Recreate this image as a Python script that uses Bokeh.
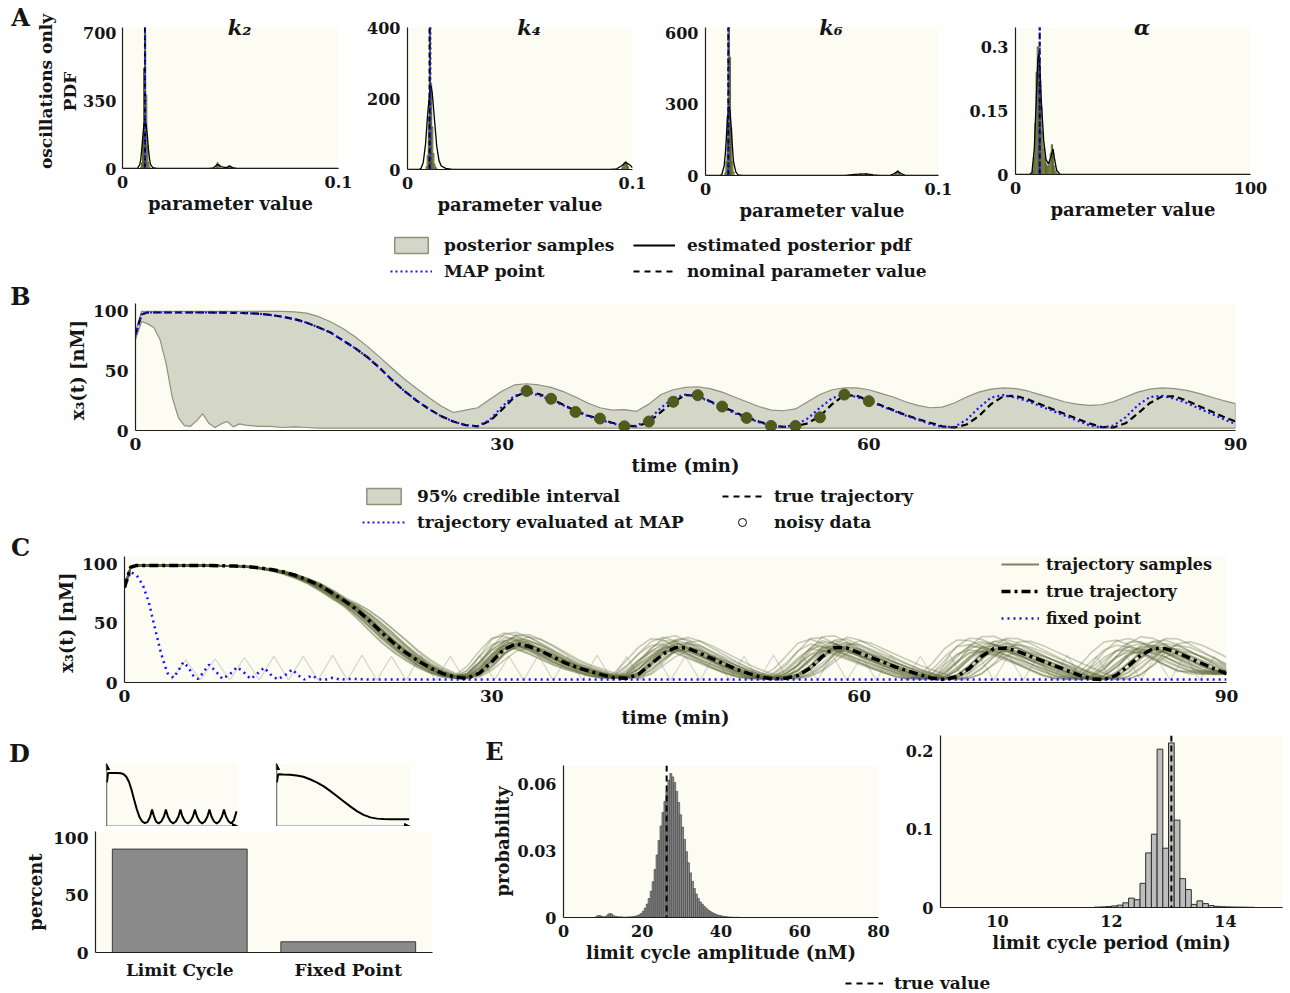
import numpy as np
from bokeh.plotting import figure
from bokeh.layouts import column, row
from bokeh.models import (Range1d, FactorRange, FixedTicker, CustomJSTickFormatter,
                          Label, Legend, LegendItem, Arrow, NormalHead, BoxAnnotation,
                          Span)
from bokeh.embed import file_html
from bokeh.resources import INLINE

# ---------------- data ----------------
# Panel A: posterior histograms (bin centres / heights) and estimated pdfs
k2_bin = 0.0005
k2_hist_x = [0.0085, 0.009, 0.0095, 0.010, 0.0105, 0.011, 0.0115, 0.012, 0.0125,
             0.0435, 0.044, 0.0445, 0.045, 0.049, 0.0495, 0.05, 0.0505]
k2_hist_y = [5, 30, 160, 520, 700, 380, 120, 30, 8, 10, 30, 22, 10, 8, 15, 12, 5]
k2_pdf_x = [0, 0.006, 0.007, 0.008, 0.0085, 0.009, 0.0095, 0.010, 0.0105, 0.011, 0.0115,
            0.012, 0.0125, 0.013, 0.014, 0.016, 0.040, 0.042, 0.044, 0.046, 0.048, 0.0495,
            0.051, 0.053, 0.1]
k2_pdf_y = [0, 0, 2, 20, 50, 110, 180, 235, 245, 225, 170, 100, 50, 20, 4, 0, 0, 3, 22, 8,
            5, 12, 5, 0, 0]
k2_map, k2_nominal = 0.0104, 0.0104

k4_bin = 0.0005
k4_hist_x = [0.0085, 0.009, 0.0095, 0.010, 0.0105, 0.011, 0.0115, 0.012, 0.0125, 0.013,
             0.0955, 0.096, 0.0965, 0.097, 0.0975, 0.098]
k4_hist_y = [8, 40, 150, 400, 240, 120, 45, 15, 6, 2, 5, 12, 20, 22, 15, 8]
k4_pdf_x = [0, 0.005, 0.006, 0.007, 0.008, 0.009, 0.010, 0.0105, 0.011, 0.012, 0.013, 0.014,
            0.015, 0.017, 0.020, 0.090, 0.093, 0.095, 0.097, 0.099, 0.1]
k4_pdf_y = [0, 0, 3, 20, 70, 160, 225, 235, 215, 140, 65, 25, 10, 3, 0, 0, 2, 10, 20, 12, 5]
k4_map, k4_nominal = 0.0102, 0.0098

k6_bin = 0.0005
k6_hist_x = [0.0085, 0.009, 0.0095, 0.010, 0.0105, 0.011, 0.0115, 0.012,
             0.064, 0.0665, 0.069, 0.0715, 0.0815, 0.082, 0.0825, 0.083, 0.0835]
k6_hist_y = [10, 60, 250, 625, 500, 200, 60, 15, 5, 7, 8, 5, 6, 12, 20, 14, 6]
k6_pdf_x = [0, 0.006, 0.007, 0.008, 0.0085, 0.009, 0.0095, 0.010, 0.0105, 0.011, 0.0115,
            0.012, 0.013, 0.014, 0.016, 0.060, 0.063, 0.066, 0.069, 0.072, 0.075, 0.079,
            0.081, 0.0825, 0.084, 0.086, 0.1]
k6_pdf_y = [0, 0, 4, 40, 90, 170, 250, 290, 275, 210, 130, 60, 15, 3, 0, 0, 4, 6, 7, 3, 0,
            0, 8, 18, 8, 0, 0]
k6_map, k6_nominal = 0.0098, 0.0098

alpha_bin = 0.5
alpha_hist_x = [7, 7.5, 8, 8.5, 9, 9.5, 10, 10.5, 11, 11.5, 12, 12.5, 13, 13.5, 14, 14.5,
                15, 15.5, 16, 16.5, 17, 17.5]
alpha_hist_y = [0.002, 0.01, 0.04, 0.12, 0.24, 0.30, 0.28, 0.22, 0.16, 0.10, 0.06, 0.04,
                0.025, 0.02, 0.02, 0.03, 0.05, 0.07, 0.05, 0.02, 0.008, 0.003]
alpha_pdf_x = [0, 6, 7, 8, 9, 9.5, 10, 10.5, 11, 12, 13, 14, 15, 16, 16.5, 17.5, 19, 100]
alpha_pdf_y = [0, 0, 0.005, 0.06, 0.2, 0.27, 0.285, 0.24, 0.17, 0.08, 0.035, 0.025, 0.04,
               0.06, 0.04, 0.01, 0, 0]
alpha_map, alpha_nominal = 10.3, 10.3

# Panels B/C: trajectories x3(t)
t_grid = [0, 0.5] + list(range(1, 91))
true_x3 = [80, 97, 98.5, 98.5, 98.5, 98.5, 98.5, 98.5, 98.4, 98.2, 98, 97.5, 96.5, 95, 93,
           90, 86, 81.5, 75, 68.5, 61, 52, 42, 33, 25, 18, 12, 7.5, 4.5, 3.5, 8, 17.5, 28,
           32.5, 30.5, 26.5, 21.5, 16.5, 12.5, 9.5, 6.5, 4, 3.5, 7, 15.5, 24, 29.5, 29,
           24.5, 20, 15.5, 11, 7.5, 4.5, 3, 3.5, 6, 12, 22, 29.5, 29, 25, 21, 17, 13, 9.5,
           6.5, 3.5, 2.5, 5, 12, 22, 28.5, 29, 26, 22, 18, 14, 10, 6, 3, 2.5, 6, 14, 23,
           28.5, 28.5, 25, 20.5, 16, 11.5, 7.5]
map_x3 = [80, 97, 98.5, 98.5, 98.5, 98.5, 98.5, 98.5, 98.4, 98.2, 98, 97.5, 96.5, 95, 93,
          90, 86, 81.5, 75, 68.5, 61, 52, 42, 33, 25, 18, 12, 7.5, 4.5, 3.5, 9, 20, 29,
          31.5, 29.5, 25.5, 21, 16, 12, 9, 6, 3.5, 4, 9, 19, 27, 30, 28.5, 24, 19.5, 14.5,
          10.5, 7, 4, 3, 4.5, 10, 19, 27, 30, 28, 24.5, 20.5, 16.5, 12.5, 9, 5.5, 3, 3, 9,
          19, 27.5, 29.5, 27.5, 24.5, 20.5, 16.5, 12.5, 8.5, 4.5, 2.5, 4, 11, 21, 28, 29,
          26.5, 23, 18.5, 14, 9.5, 5.5]
ci_upper = [82, 99.5, 99.5, 99.5, 99.5, 99.5, 99.5, 99.5, 99.5, 99.5, 99.5, 99.5, 99.5,
            99.5, 99, 98, 95, 90.5, 85, 78, 70, 61, 52, 43, 35, 27.5, 20.5, 15, 17, 19, 26,
            33, 38, 39, 38, 36, 32.5, 28, 23, 19, 17, 17.5, 16, 22, 30, 34, 36, 36.5, 35,
            32, 28, 24, 20, 17, 16.5, 18, 24, 30, 34, 35.5, 35.5, 34, 31, 28, 24, 21, 19,
            19.5, 23, 28, 32, 34.5, 35.5, 35, 33, 30, 27, 24, 22, 21, 21.5, 24, 28, 32,
            34.5, 35.5, 35, 33.5, 31, 28, 25, 22.5]
ci_lower_t = [0, 0.5, 1, 1.5, 2, 2.5, 3, 3.5, 4, 4.5, 5, 5.5, 6, 6.5, 7, 7.5, 8, 8.5, 9,
              10, 11, 12, 13, 14, 15, 20, 30, 40, 50, 60, 70, 80, 90]
ci_lower = [76, 91, 89, 86, 76, 56, 28, 11, 4, 3.5, 8, 14, 6, 2.5, 5.5, 7.5, 3, 5.5, 4.5,
            3.5, 3.5, 2.5, 3, 2.5, 2, 2, 2, 2, 2, 2, 2, 2, 2]
obs_t = [32, 34, 36, 38, 40, 42, 44, 46, 48, 50, 52, 54, 56, 58, 60]
obs_x3 = [33, 26.5, 15.5, 10, 3.5, 7.5, 24, 29.5, 20, 10.5, 3.8, 3.8, 11, 30, 24.5]

fixed_t = [0, 0.5, 1, 1.5, 2, 2.5, 3, 3.5, 4, 4.4, 4.8, 5.2, 5.6, 6.0, 6.4, 6.9, 7.4, 8.0,
           8.6, 9.2, 9.8, 10.3, 10.8, 11.4, 11.9, 12.5, 13.1, 13.7, 14.2, 14.7, 15.3, 15.8,
           16.3, 17.0, 17.6, 18.5, 20, 90]
fixed_x3 = [80, 93, 90, 82, 67, 45, 24, 8, 4, 10, 17, 13, 6, 3, 8, 15, 10, 3, 7, 13, 8, 3,
            7, 12.5, 7, 2.5, 6, 11, 6, 2.5, 6, 3, 2, 4, 2.5, 3, 2.5, 2.5]
zigzag_t = [3.8, 5.0, 6.2, 7.4, 8.6, 9.8, 11.0, 12.2, 13.4, 14.6, 15.8, 17.0, 18.2, 19.4,
            20.6, 21.8, 23.0, 24.2, 25.4, 26.6, 27.8, 29.0, 30.2, 31.4, 32.6, 33.8, 35.0,
            36.2, 37.4, 38.6, 39.8, 41.0, 42.2, 43.4, 44.6, 45.8, 47.0, 48.2, 49.4, 50.6,
            51.8, 53.0, 54.2, 55.4, 56.6, 57.8, 59.0, 60.2, 61.4, 62.6, 63.8, 65.0, 66.2,
            67.4, 68.6, 69.8, 71.0, 72.2, 73.4, 74.6, 75.8, 77.0, 78.2, 79.4, 80.6, 81.8,
            83.0, 84.2, 85.4, 86.6, 87.8, 89.0, 90.0]
zigzag_x3 = [2, 19, 2, 20, 2, 21, 2, 22, 2, 22, 2, 23, 2, 23, 2, 22, 2, 23, 2, 22, 2, 23, 2,
             22, 2, 23, 2, 22, 2, 23, 2, 22, 2, 23, 2, 22, 2, 23, 2, 22, 2, 23, 2, 22, 2, 23,
             2, 22, 2, 23, 2, 22, 2, 23, 2, 22, 2, 23, 2, 22, 2, 23, 2, 22, 2, 23, 2, 22, 2,
             23, 2, 22, 12]
sample_period_ratio = [0.955, 0.96, 0.965, 0.968, 0.971, 0.974, 0.977, 0.979, 0.981, 0.983,
                       0.985, 0.987, 0.989, 0.991, 0.993, 0.995, 0.997, 0.999, 1.0, 1.002,
                       1.004, 1.006, 1.008, 1.011, 1.014, 1.018, 1.022, 1.027]
sample_amp_ratio = [1.25, 1.1, 0.95, 1.3, 1.05, 0.9, 1.2, 1.0, 1.15, 0.92, 1.35, 1.05,
                    0.98, 1.1, 1.2, 0.95, 1.0, 1.1, 0.9, 1.25, 1.05, 1.15, 0.95, 1.3, 1.0,
                    1.1, 0.9, 1.2]

# Panel D
regimes = ["Limit Cycle", "Fixed Point"]
regime_percent = [90.6, 9.4]
lc_sketch_t = [0.3, 1.2, 4, 8, 11, 13, 15, 17, 19, 21, 23, 25, 27, 29, 31, 33, 34.5, 36,
               37.5, 39.5, 41.5, 43.5, 45, 46.5, 48.5, 50.5, 52.5, 54.5, 56, 57.5, 59.5,
               61.5, 63.5, 65.5, 67, 68.5, 70.5, 72.5, 74.5, 76.5, 78, 79.5, 81.5, 83.5,
               85.5, 87.5, 89, 90.5, 92.5, 94.5, 96.5, 98.5]
lc_sketch_v = [70, 85, 85, 85, 84.5, 83, 79, 71, 58, 42, 27, 15, 8, 5.5, 7, 15, 27, 16, 8,
               5, 8, 16, 27, 16, 8, 5, 8, 16, 27, 16, 8, 5, 8, 16, 27, 16, 8, 5, 8, 16, 27,
               16, 8, 5, 8, 16, 27, 16, 8, 5, 10, 24]
fp_sketch_t = [0.3, 1.2, 5, 10, 15, 20, 25, 30, 35, 40, 45, 50, 55, 60, 65, 70, 75, 80, 85,
               90, 95, 99]
fp_sketch_v = [70, 83, 82.5, 82, 81, 79, 75, 70, 64, 56.5, 48.5, 40, 32, 24.5, 18.5, 14.5,
               12.5, 11.8, 11.5, 11.5, 11.5, 11.5]

# Panel E
amp_start, amp_bin = 8.0, 0.5
amp_prob = [0.0003, 0.0008, 0.0009, 0.0005, 0.0003, 0.0005, 0.0012, 0.0018, 0.0016, 0.0008,
            0.0005, 0.0004, 0.0003, 0.0003, 0.0002, 0.0002, 0.0002, 0.0003, 0.0003, 0.0004,
            0.0006, 0.0008, 0.0012, 0.0018, 0.0028, 0.0042, 0.006, 0.0085, 0.0118, 0.016,
            0.0215, 0.028, 0.0345, 0.041, 0.047, 0.052, 0.0565, 0.0615, 0.0645, 0.063,
            0.0605, 0.0565, 0.0515, 0.046, 0.0405, 0.035, 0.0295, 0.0245, 0.02, 0.0162,
            0.013, 0.0105, 0.0085, 0.007, 0.006, 0.005, 0.0042, 0.0034, 0.0028, 0.0022,
            0.0018, 0.0014, 0.0011, 0.0009, 0.0007, 0.0005, 0.0004, 0.0003, 0.0002, 0.0002,
            0.0001, 0.0001, 0.0001, 0.0001]
amp_true = 26.2
per_start, per_bin = 11.7, 0.1
per_prob = [0.0005, 0.0008, 0.0012, 0.002, 0.003, 0.006, 0.012, 0.010, 0.031, 0.070, 0.094,
            0.203, 0.076, 0.211, 0.112, 0.037, 0.023, 0.004, 0.0085, 0.005, 0.0025, 0.0015,
            0.001, 0.0008, 0.0006, 0.0005, 0.0004, 0.0003]
per_true = 13.05

# ---------------- style helpers ----------------
FONT = "DejaVu Serif"
CREAM = "#fcfcf3"
BAND_FILL = "#d4d7c7"
BAND_LINE = "#8f917c"
OLIVE = "#4f5b1d"
SAMPLE = "#5f6638"
BLUE = "#1515ff"
TXT = "#151515"

num_fmt = CustomJSTickFormatter(code="return tick.toString();")


def mkfig(w, h, l, r, t, b, xr, yr, xaxis=True, yaxis=True, tick_size="16px"):
    p = figure(width=w, height=h, x_range=xr, y_range=yr, output_backend="svg",
               toolbar_location=None, min_border_left=l, min_border_right=r,
               min_border_top=t, min_border_bottom=b,
               x_axis_location="below" if xaxis else None,
               y_axis_location="left" if yaxis else None)
    p.background_fill_color = CREAM
    p.border_fill_color = "white"
    p.outline_line_color = None
    p.grid.visible = False
    for ax in p.axis:
        ax.major_tick_line_color = None
        ax.minor_tick_line_color = None
        ax.major_tick_in = 0
        ax.major_tick_out = 0
        ax.minor_tick_in = 0
        ax.minor_tick_out = 0
        ax.axis_line_color = "#1e1e1e"
        ax.axis_line_width = 1.2
        ax.major_label_text_font = FONT
        ax.major_label_text_font_style = "bold"
        ax.major_label_text_font_size = tick_size
        ax.major_label_text_color = TXT
        ax.major_label_standoff = 7
        ax.axis_label_text_font = FONT
        ax.axis_label_text_font_style = "bold"
        ax.axis_label_text_font_size = "18px"
        ax.axis_label_text_color = TXT
        ax.axis_label_standoff = 2
    return p


def solo(p):
    return column(p)


def set_ticks(p, xt=None, yt=None):
    if xt is not None:
        p.xaxis.ticker = FixedTicker(ticks=xt)
        p.xaxis.formatter = num_fmt
    if yt is not None:
        p.yaxis.ticker = FixedTicker(ticks=yt)
        p.yaxis.formatter = num_fmt


def blank_fig(w, h):
    # a plain canvas whose frame is the whole figure (x: px from left, y: px from top)
    p = figure(width=w, height=h, x_range=Range1d(0, w), y_range=Range1d(h, 0),
               output_backend="svg", toolbar_location=None, min_border=0,
               x_axis_location=None, y_axis_location=None)
    p.outline_line_color = None
    p.background_fill_color = "white"
    p.border_fill_color = "white"
    p.grid.visible = False
    return p


def letter_fig(text, w, h, cx, cy):
    p = blank_fig(w, h)
    p.add_layout(Label(x=cx, y=cy, text=text, text_font=FONT, text_font_style="bold",
                       text_font_size="24px", text_align="center", text_baseline="middle",
                       text_color=TXT))
    return p


def mk_legend(items, loc, glyph_w=42, standoff=12, spacing=6, size="17px"):
    return Legend(items=items, location=loc, orientation="vertical",
                  label_text_font=FONT, label_text_font_style="bold",
                  label_text_font_size=size, label_text_color=TXT,
                  glyph_width=glyph_w, glyph_height=20, label_height=20,
                  label_standoff=standoff, spacing=spacing, padding=0, margin=0,
                  border_line_color=None, background_fill_alpha=0)


# off-canvas coordinates for legend-only renderers
OFF = [-50, -40]

# ---------------- Panel A ----------------
A_TOP = 14   # frame top (leaves room for the titles that straddle the axes top)


def param_panel(w, h, l, r, fr_top, fr_bot, xmax, ytop, xt, yt, hx, hy, hbin, px, py,
                vmap, vnom, title):
    yfull = ytop * (fr_bot - A_TOP) / (fr_bot - fr_top)
    p = mkfig(w, h, l, r, A_TOP, h - fr_bot, Range1d(0, xmax), Range1d(0, yfull))
    p.background_fill_color = "white"
    p.add_layout(BoxAnnotation(bottom=0, top=ytop, fill_color=CREAM, fill_alpha=1,
                               line_color=None, level="underlay"))
    set_ticks(p, xt, yt)
    p.yaxis.bounds = (0, ytop)
    p.xaxis.axis_label = "parameter value"
    p.vbar(x=hx, width=hbin, top=hy, bottom=0, fill_color=BAND_FILL, line_color=OLIVE,
           line_width=0.9)
    p.line(px, py, line_color="black", line_width=1.3)
    p.segment(x0=[vnom], y0=[0], x1=[vnom], y1=[ytop], line_color="black",
              line_dash="5 3", line_width=2)
    p.segment(x0=[vmap], y0=[0], x1=[vmap], y1=[ytop], line_color=BLUE,
              line_dash="2 3", line_width=2)
    p.add_layout(Label(x=xmax / 2, y=ytop, x_offset=9, text=title, text_font=FONT,
                       text_font_style="bold italic", text_font_size="21px",
                       text_align="center", text_baseline="middle", text_color=TXT))
    return p


letA = letter_fig("A", 33, 225, 20, 17)
pk2 = param_panel(327, 225, 88, 22, 27, 168, 0.1, 730, [0, 0.1], [0, 350, 700],
                  k2_hist_x, k2_hist_y, k2_bin, k2_pdf_x, k2_pdf_y, k2_map, k2_nominal,
                  "k₂")
pk2.yaxis.axis_label = "oscillations only\nPDF"
pk2.yaxis.axis_label_text_font_size = "17px"
pk2.yaxis.axis_label_standoff = 0
pk2.yaxis.major_label_standoff = 6
pk4 = param_panel(300, 225, 47, 28, 27, 169, 0.1, 400, [0, 0.1], [0, 200, 400],
                  k4_hist_x, k4_hist_y, k4_bin, k4_pdf_x, k4_pdf_y, k4_map, k4_nominal,
                  "k₄")
pk6 = param_panel(300, 225, 45, 22, 27, 175, 0.1, 625, [0, 0.1], [0, 300, 600],
                  k6_hist_x, k6_hist_y, k6_bin, k6_pdf_x, k6_pdf_y, k6_map, k6_nominal,
                  "k₆")
pal = param_panel(330, 225, 55, 40, 27, 174, 100, 0.345, [0, 100], [0, 0.15, 0.3],
                  alpha_hist_x, alpha_hist_y, alpha_bin, alpha_pdf_x, alpha_pdf_y,
                  alpha_map, alpha_nominal, "α")
rowA = row(solo(letA), solo(pk2), solo(pk4), solo(pk6), solo(pal))

legA = blank_fig(1290, 56)
r_box = legA.quad(left=[OFF[0]], right=[OFF[1]], top=[OFF[1]], bottom=[OFF[0]],
                  fill_color=BAND_FILL, line_color=BAND_LINE, line_width=1.5)
r_map = legA.line(x=OFF, y=OFF, line_color=BLUE, line_dash="2 3", line_width=2)
r_pdf = legA.line(x=OFF, y=OFF, line_color="black", line_width=2)
r_nom = legA.line(x=OFF, y=OFF, line_color="black", line_dash="6 5", line_width=2)
legA.add_layout(mk_legend([LegendItem(label="posterior samples", renderers=[r_box]),
                           LegendItem(label="MAP point", renderers=[r_map])], (390, 0)))
legA.add_layout(mk_legend([LegendItem(label="estimated posterior pdf", renderers=[r_pdf]),
                           LegendItem(label="nominal parameter value", renderers=[r_nom])],
                          (633, 0)))

# ---------------- Panel B ----------------
letB = letter_fig("B", 33, 204, 20, 15)
pB = mkfig(1257, 204, 102, 55, 22, 55, Range1d(0, 90), Range1d(0, 106), tick_size="17px")
set_ticks(pB, [0, 30, 60, 90], [0, 50, 100])
pB.xaxis.axis_label = "time (min)"
pB.yaxis.axis_label = "x₃(t)  [nM]"
pB.patch(t_grid + ci_lower_t[::-1], ci_upper + ci_lower[::-1], fill_color=BAND_FILL,
         line_color=BAND_LINE, line_width=1.2)
pB.line(t_grid, true_x3, line_color="black", line_dash="7 4", line_width=2.2)
pB.line(t_grid, map_x3, line_color=BLUE, line_dash="2 3", line_width=2.2)
pB.scatter(obs_t, obs_x3, size=11, fill_color=OLIVE, line_color=OLIVE)

legB = blank_fig(1290, 48)
rb_box = legB.quad(left=[OFF[0]], right=[OFF[1]], top=[OFF[1]], bottom=[OFF[0]],
                   fill_color=BAND_FILL, line_color=BAND_LINE, line_width=1.5)
rb_map = legB.line(x=OFF, y=OFF, line_color=BLUE, line_dash="2 3", line_width=2)
rb_true = legB.line(x=OFF, y=OFF, line_color="black", line_dash="6 5", line_width=2)
rb_obs = legB.scatter(x=OFF, y=OFF, size=4, fill_color="white", line_color="black",
                      line_width=1)
legB.add_layout(mk_legend([LegendItem(label="95% credible interval", renderers=[rb_box]),
                           LegendItem(label="trajectory evaluated at MAP",
                                      renderers=[rb_map])], (362, 1), glyph_w=43))
legB.add_layout(mk_legend([LegendItem(label="true trajectory", renderers=[rb_true]),
                           LegendItem(label="noisy data", renderers=[rb_obs])],
                          (722, 1), glyph_w=40))

# ---------------- Panel C ----------------
letC = letter_fig("C", 33, 202, 20, 14)
pC = mkfig(1257, 202, 91, 64, 23, 53, Range1d(0, 90), Range1d(0, 106), tick_size="17px")
set_ticks(pC, [0, 30, 60, 90], [0, 50, 100])
pC.xaxis.axis_label = "time (min)"
pC.yaxis.axis_label = "x₃(t)  [nM]"
t_arr = np.array(t_grid, dtype=float)
v_arr = np.array(true_x3, dtype=float)
xs, ys = [], []
for s, a in zip(sample_period_ratio, sample_amp_ratio):
    vs = np.interp(t_arr / s, t_arr, v_arr)
    wgt = np.clip((70 - vs) / 40, 0, 1)
    xs.append(list(t_arr))
    ys.append(list(vs * (1 + (a - 1) * wgt)))
pC.line(zigzag_t, zigzag_x3, line_color="#cdcdc9", line_alpha=0.8, line_width=1.2)
pC.multi_line(xs, ys, line_color=SAMPLE, line_alpha=0.33, line_width=1.6)
rc_fix = pC.line(fixed_t, fixed_x3, line_color=BLUE, line_dash="2 4", line_width=2.5)
rc_true = pC.line(t_grid, true_x3, line_color="black", line_dash="9 4 3 4", line_width=3.5)
rc_samp = pC.line(x=[-20, -10], y=[-20, -10], line_color="#7c8160", line_width=2.2)
pC.add_layout(mk_legend([LegendItem(label="trajectory samples", renderers=[rc_samp]),
                         LegendItem(label="true trajectory", renderers=[rc_true]),
                         LegendItem(label="fixed point", renderers=[rc_fix])],
                        (877, 54), glyph_w=38, standoff=7, spacing=7, size="16px"))

# ---------------- Panel D ----------------
def sketch(w, l, r, xs_, ys_):
    p = mkfig(w, 91, l, r, 28, 0, Range1d(0, 100), Range1d(0, 100), xaxis=False,
              yaxis=False)
    p.line(xs_, ys_, line_color="black", line_width=2)
    p.add_layout(Arrow(end=NormalHead(size=6, fill_color="black", line_color="black"),
                       x_start=0, y_start=0, x_end=0, y_end=100, line_width=1.3))
    p.add_layout(Arrow(end=NormalHead(size=6, fill_color="black", line_color="black"),
                       x_start=0, y_start=0, x_end=100, y_end=0, line_width=1.3))
    return p


letD = letter_fig("D", 33, 91, 19, 18)
ins1 = sketch(224, 73, 19, lc_sketch_t, lc_sketch_v)
ins2 = sketch(193, 19, 40, fp_sketch_t, fp_sketch_v)
pD = mkfig(450, 167, 95, 18, 5, 41, FactorRange(*regimes), Range1d(0, 106),
           tick_size="17px")
pD.yaxis.ticker = FixedTicker(ticks=[0, 50, 100])
pD.yaxis.formatter = num_fmt
pD.yaxis.axis_label = "percent"
pD.yaxis.axis_label_standoff = 4
pD.vbar(x=regimes, top=regime_percent, width=0.8, fill_color="#8a8a8a",
        line_color="#3c3c3c", line_width=1)
colD = column(row(solo(letD), solo(ins1), solo(ins2)), solo(pD))

# ---------------- Panel E ----------------
letE = letter_fig("E", 445, 30, 44, 16)
pE1 = mkfig(445, 200, 113, 17, 0, 48, Range1d(0, 80), Range1d(0, 0.0681))
set_ticks(pE1, [0, 20, 40, 60, 80], [0, 0.03, 0.06])
pE1.xaxis.axis_label = "limit cycle amplitude (nM)"
pE1.yaxis.axis_label = "probability"
amp_centers = [amp_start + amp_bin * (i + 0.5) for i in range(len(amp_prob))]
pE1.vbar(x=amp_centers, width=amp_bin, top=amp_prob, bottom=0, fill_color="#8c8c8c",
         line_color="#3a3a3a", line_width=0.6)
pE1.add_layout(Span(location=amp_true, dimension="height", line_color="black",
                    line_dash="6 4", line_width=2))

pE2 = mkfig(395, 230, 45, 8, 0, 58, Range1d(9, 15), Range1d(0, 0.2205))
set_ticks(pE2, [10, 12, 14], [0, 0.1, 0.2])
pE2.xaxis.axis_label = "limit cycle period (min)"
per_centers = [per_start + per_bin * (i + 0.5) for i in range(len(per_prob))]
pE2.vbar(x=per_centers, width=per_bin, top=per_prob, bottom=0, fill_color="#bdbdbd",
         line_color="#2e2e2e", line_width=1)
pE2.add_layout(Span(location=per_true, dimension="height", line_color="black",
                    line_dash="6 4", line_width=2))

legE = blank_fig(840, 28)
re_true = legE.line(x=OFF, y=OFF, line_color="black", line_dash="6 5", line_width=2)
legE.add_layout(mk_legend([LegendItem(label="true value", renderers=[re_true])],
                          (395, 0), glyph_w=38, standoff=11))
colE = column(row(column(solo(letE), solo(pE1)), solo(pE2)), solo(legE))

layout = column(rowA, solo(legA), row(solo(letB), solo(pB)), solo(legB),
                row(solo(letC), solo(pC)), row(colD, colE))
open("out.html", "w").write(file_html(layout, INLINE))
